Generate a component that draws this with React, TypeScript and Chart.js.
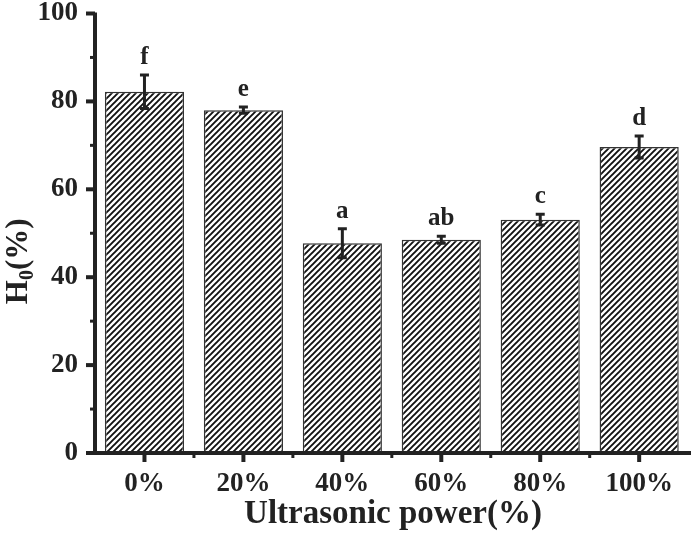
import React, { useEffect, useRef } from "react";
import { Chart, registerables } from "chart.js";
Chart.register(...registerables);

const categories = ["0%", "20%", "40%", "60%", "80%", "100%"];
const values = [82.2, 78.0, 47.7, 48.5, 53.1, 69.6];
const errors = [3.8, 0.7, 3.3, 0.8, 1.2, 2.5];
const letters = ["f", "e", "a", "ab", "c", "d"];
const yTicks = [0, 20, 40, 60, 80, 100];
const yMinorTicks = [10, 30, 50, 70, 90];
const xTitle = "Ultrasonic power(%)";
const yTitleMain = "H";
const yTitleSub = "0";
const yTitleTail = "(%)";

const FONT = "'Liberation Serif', 'Times New Roman', serif";
const SHIFT = 17;
const W = 691;
const H = 536 + SHIFT;

function makePattern(): CanvasPattern | string {
  const p = 6;
  const c = document.createElement("canvas");
  c.width = p;
  c.height = p;
  const g = c.getContext("2d");
  if (!g) return "#fff";
  g.fillStyle = "#fff";
  g.fillRect(0, 0, p, p);
  g.strokeStyle = "#111";
  g.lineWidth = 1.9;
  g.beginPath();
  g.moveTo(-1, p + 1);
  g.lineTo(p + 1, -1);
  g.moveTo(-1, 1);
  g.lineTo(1, -1);
  g.moveTo(p - 1, p + 1);
  g.lineTo(p + 1, p - 1);
  g.stroke();
  const pat = g.createPattern(c, "repeat");
  return pat || "#fff";
}

const decorPlugin = {
  id: "decor",
  afterDatasetsDraw(chart: any) {
    const ctx = chart.ctx;
    const x = chart.scales.x;
    const y = chart.scales.y;
    ctx.save();
    ctx.strokeStyle = "#222";
    ctx.fillStyle = "#222";
    ctx.lineWidth = 3;
    values.forEach((v, i) => {
      const cx = x.getPixelForValue(i);
      const top = y.getPixelForValue(v + errors[i]);
      const bot = y.getPixelForValue(v - errors[i]);
      ctx.beginPath();
      ctx.moveTo(cx, top);
      ctx.lineTo(cx, bot);
      ctx.moveTo(cx - 4.5, top);
      ctx.lineTo(cx + 4.5, top);
      ctx.moveTo(cx - 4.5, bot);
      ctx.lineTo(cx + 4.5, bot);
      ctx.stroke();
      ctx.font = `bold 25px ${FONT}`;
      ctx.textAlign = "center";
      ctx.textBaseline = "alphabetic";
      ctx.fillText(letters[i], cx, top - 11);
    });
    ctx.restore();
  },
  afterDraw(chart: any) {
    const ctx = chart.ctx;
    const x = chart.scales.x;
    const y = chart.scales.y;
    const area = chart.chartArea;
    ctx.save();
    ctx.strokeStyle = "#222";
    ctx.lineCap = "butt";
    ctx.lineWidth = 4;
    ctx.beginPath();
    ctx.moveTo(area.left, area.top - 1);
    ctx.lineTo(area.left, area.bottom + 2);
    ctx.moveTo(area.left - 2, area.bottom);
    ctx.lineTo(chart.width, area.bottom);
    ctx.stroke();
    yTicks.forEach((t) => {
      const py = y.getPixelForValue(t);
      ctx.beginPath();
      ctx.moveTo(area.left - 9, py);
      ctx.lineTo(area.left, py);
      ctx.stroke();
    });
    ctx.lineWidth = 3;
    yMinorTicks.forEach((t) => {
      const py = y.getPixelForValue(t);
      ctx.beginPath();
      ctx.moveTo(area.left - 5, py);
      ctx.lineTo(area.left, py);
      ctx.stroke();
    });
    ctx.lineWidth = 4;
    categories.forEach((_, i) => {
      const px = x.getPixelForValue(i);
      ctx.beginPath();
      ctx.moveTo(px, area.bottom);
      ctx.lineTo(px, area.bottom + 9);
      ctx.stroke();
    });
    ctx.lineWidth = 3;
    for (let i = 1; i < categories.length; i++) {
      const px = (x.getPixelForValue(i - 1) + x.getPixelForValue(i)) / 2;
      ctx.beginPath();
      ctx.moveTo(px, area.bottom);
      ctx.lineTo(px, area.bottom + 5);
      ctx.stroke();
    }
    ctx.fillStyle = "#222";
    ctx.font = `bold 33px ${FONT}`;
    ctx.textAlign = "center";
    ctx.textBaseline = "middle";
    ctx.fillText(xTitle, 393, area.bottom + 61);
    ctx.translate(19, (area.top + area.bottom) / 2 + 28);
    ctx.rotate(-Math.PI / 2);
    const fMain = `bold 31px ${FONT}`;
    const fSub = `bold 20px ${FONT}`;
    ctx.font = fMain;
    const wH = ctx.measureText(yTitleMain).width;
    const wT = ctx.measureText(yTitleTail).width;
    ctx.font = fSub;
    const wS = ctx.measureText(yTitleSub).width;
    const total = wH + wS + wT;
    let cx = -total / 2;
    ctx.textAlign = "left";
    ctx.textBaseline = "middle";
    ctx.font = fMain;
    ctx.fillText(yTitleMain, cx, 0);
    cx += wH;
    ctx.font = fSub;
    ctx.fillText(yTitleSub, cx, 9);
    cx += wS;
    ctx.font = fMain;
    ctx.fillText(yTitleTail, cx, 0);
    ctx.restore();
  },
};

export default function App() {
  const ref = useRef<HTMLCanvasElement>(null);
  useEffect(() => {
    if (!ref.current) return;
    const chart = new Chart(ref.current, {
      type: "bar",
      data: {
        labels: categories,
        datasets: [
          {
            data: values,
            backgroundColor: makePattern() as any,
            borderColor: "#333",
            borderWidth: 1.5,
            categoryPercentage: 0.8,
            barPercentage: 1,
          },
        ],
      },
      options: {
        animation: false,
        responsive: false,
        maintainAspectRatio: false,
        layout: { padding: { top: 0, left: 0, right: 1, bottom: 0 } },
        plugins: { legend: { display: false }, tooltip: { enabled: false } },
        scales: {
          x: {
            grid: { display: false, drawTicks: false },
            border: { display: false },
            ticks: {
              color: "#222",
              font: { family: FONT, size: 27, weight: "bold", lineHeight: 1 },
              padding: 18,
            },
            afterFit: (s: any) => {
              s.height = 83;
            },
          },
          y: {
            min: 0,
            max: 100,
            grid: { display: false, drawTicks: false },
            border: { display: false },
            ticks: {
              stepSize: 20,
              color: "#222",
              font: { family: FONT, size: 27, weight: "bold", lineHeight: 1 },
              padding: 17,
            },
            afterFit: (s: any) => {
              s.width = 95;
            },
          },
        },
      },
      plugins: [decorPlugin],
    });
    return () => chart.destroy();
  }, []);
  return (
    <div style={{ position: "fixed", left: 0, top: 0, width: 691, height: 536, background: "#fff", overflow: "hidden" }}>
      <canvas
        ref={ref}
        width={W}
        height={H}
        style={{ position: "absolute", left: 0, top: -SHIFT, width: W, height: H }}
      />
    </div>
  );
}
